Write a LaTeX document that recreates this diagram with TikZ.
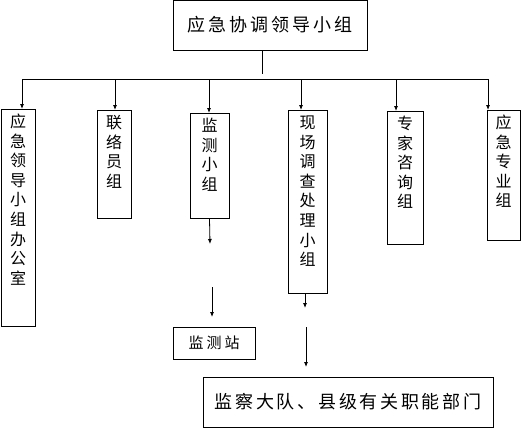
\documentclass[tikz,border=0pt]{standalone}
\usepackage{fontspec}
\usepackage{tikz}
\usetikzlibrary{arrows.meta}
\newfontfamily\cjk{Noto Sans CJK SC}
\newcommand{\colstack}[1]{\begin{tabular}[t]{@{}c@{}}#1\end{tabular}}

\begin{document}
\begin{tikzpicture}[x=1pt,y=-1pt,line width=0.8pt,
    colbox/.style={draw,anchor=north,inner sep=4pt,text height=14pt,
        font=\cjk\fontsize{16}{19.6}\selectfont},
    rowbox/.style={draw,inner sep=0pt},
    arr/.style={-{Latex[length=5pt,width=4pt]}}]
    \useasboundingbox (0,0) rectangle (521,429);

    % leading group
    \node[rowbox,minimum width=194pt,minimum height=50pt,
        font=\cjk\fontsize{18}{20}\selectfont\addfontfeature{LetterSpace=17}] (lead) at (270,25) {应急协调领导小组};

    % bus
    \coordinate (hub) at (262,74);
    \draw (lead.south -| hub) -- (hub);
    \foreach \n/\x in {1/22,2/115,3/209,4/301,5/396,6/488}
        \coordinate (t\n) at (\x,79);
    \draw (t1) -- (t6);

    % groups
    \node[colbox,minimum width=34pt,text depth=195pt] (b1) at (18,109) {\colstack{应\\急\\领\\导\\小\\组\\办\\公\\室}};
    \node[colbox,minimum width=34pt,text depth=86pt] (b2) at (114,110) {\colstack{联\\络\\员\\组}};
    \node[colbox,minimum width=39pt,text depth=83pt] (b3) at (209.5,113) {\colstack{监\\测\\小\\组}};
    \node[colbox,minimum width=39pt,text depth=161pt] (b4) at (307.5,110) {\colstack{现\\场\\调\\查\\处\\理\\小\\组}};
    \node[colbox,minimum width=36pt,text depth=111pt] (b5) at (405,111) {\colstack{专\\家\\咨\\询\\组}};
    \node[colbox,minimum width=33pt,text depth=108pt] (b6) at (503.5,110) {\colstack{应\\急\\专\\业\\组}};
    \foreach \n in {1,...,6}
        \draw[arr] (t\n) -- (t\n |- b\n.north);

    % monitoring station
    \coordinate (m1) at (210,244);
    \coordinate (m2) at (212,287);
    \coordinate (m3) at (212,317);
    \draw[arr] (b3.south) -- (m1);
    \draw[arr] (m2) -- (m3);
    \node[rowbox,minimum width=82pt,minimum height=32pt,
        font=\cjk\fontsize{15}{18}\selectfont\addfontfeature{LetterSpace=20}] (stat) at (214,343) {监测站};

    % departments
    \coordinate (s1) at (305,308);
    \coordinate (s2) at (306,327);
    \coordinate (s3) at (306,367);
    \draw[arr] (b4.south -| s1) -- (s1);
    \draw[arr] (s2) -- (s3);
    \node[rowbox,minimum width=290pt,minimum height=50pt,
        font=\cjk\fontsize{18}{20}\selectfont\addfontfeature{LetterSpace=15}] (dept) at (348,402) {监察大队、县级有关职能部门};
\end{tikzpicture}
\end{document}
